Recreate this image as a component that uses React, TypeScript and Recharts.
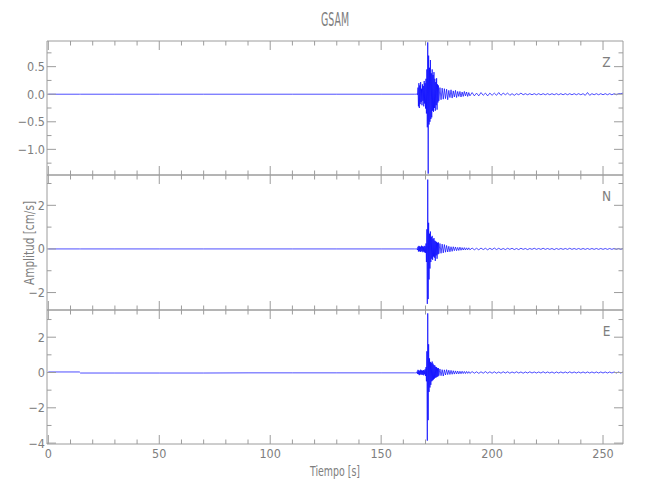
import { LineChart, Line, XAxis, YAxis } from 'recharts'

// time axis [s], split by segment of the record
const tPre = [0, 14, 14.5, 30, 50, 70, 90, 110, 130, 150, 165, 165.6]
const tSismo = [
  166, 166.2, 166.4, 166.6, 166.8, 167, 167.2, 167.4, 167.6, 167.8,
  168, 168.2, 168.4, 168.6, 168.8, 169, 169.2, 169.4, 169.6, 169.8,
  170, 170.2, 170.4, 170.6, 170.8, 171, 171.2, 171.4, 171.6, 171.8,
  172, 172.2, 172.4, 172.6, 172.8, 173, 173.2, 173.4, 173.6, 173.8,
  174, 174.2, 174.4, 174.6, 174.8, 175, 175.2, 175.4, 175.6, 175.8,
  176
]
const tCoda = [
  176.5, 177, 177.5, 178, 178.5, 179, 179.5, 180, 180.5, 181,
  181.5, 182, 182.5, 183, 183.5, 184, 184.5, 185, 185.5, 186,
  186.5, 187, 187.5, 188, 188.5, 189, 189.5, 190
]
const tCola = [
  191, 192, 193, 194, 195, 196, 197, 198, 199, 200,
  201, 202, 203, 204, 205, 206, 207, 208, 209, 210,
  211, 212, 213, 214, 215, 216, 217, 218, 219, 220,
  221, 222, 223, 224, 225, 226, 227, 228, 229, 230,
  231, 232, 233, 234, 235, 236, 237, 238, 239, 240,
  241, 242, 243, 244, 245, 246, 247, 248, 249, 250,
  251, 252, 253, 254, 255, 256, 257, 258, 259
]

// componente Z [cm/s]
const zPre = [0, 0, 0, 0, 0, 0, 0, 0, 0, 0, 0, 0]
const zSismo = [
  0, 0.01, -0.01, 0.12, -0.22, 0.2, -0.25, 0.16, -0.18, 0.22,
  -0.14, 0.1, -0.2, 0.18, -0.12, 0.15, -0.22, 0.24, -0.17, 0.2,
  -0.26, 0.28, -0.35, 0.45, -0.6, 0.94, -1.44, 0.7, -0.55, 0.48,
  -0.5, 0.62, -0.45, 0.38, -0.42, 0.45, -0.3, 0.35, -0.32, 0.4,
  -0.25, 0.28, -0.3, 0.22, -0.2, 0.29, -0.28, 0.18, -0.15, 0.16,
  -0.12
]
const zCoda = [
  0.12, -0.1, 0.11, -0.09, 0.1, -0.08, 0.09, -0.1, 0.07, -0.06,
  0.08, -0.07, 0.06, -0.05, 0.07, -0.06, 0.05, -0.04, 0.05, -0.05,
  0.04, -0.04, 0.05, -0.03, 0.04, -0.04, 0.03, -0.03
]
const zCola = [
  0.03, -0.03, 0.02, -0.03, 0.03, -0.02, 0.02, -0.03, 0.02, -0.02,
  0.02, -0.02, 0.03, -0.02, 0.02, -0.01, 0.02, -0.02, 0.01, -0.02,
  0.01, -0.01, 0.02, -0.01, 0.01, -0.01, 0.01, -0.01, 0.01, -0.01,
  0.01, -0.01, 0.01, -0.01, 0.01, -0.01, 0.01, -0.01, 0.01, -0.01,
  0.01, -0.01, 0.01, -0.01, 0.01, -0.01, 0.01, -0.01, 0.01, -0.01,
  0.01, -0.02, 0.03, -0.02, 0.01, -0.01, 0.01, -0.01, 0.01, -0.01,
  0.01, -0.01, 0.01, -0.01, 0.01, -0.01, 0.01, 0.01, 0.02
]

// componente N [cm/s]
const nPre = [0, 0, 0, 0, 0, 0, 0, 0, 0, 0, 0, 0]
const nSismo = [
  0, 0.02, -0.05, 0.1, -0.12, 0.14, -0.1, 0.12, -0.14, 0.1,
  -0.12, 0.15, -0.1, 0.12, -0.15, 0.1, -0.12, 0.14, -0.16, 0.12,
  -0.18, 0.25, -0.6, 0.9, -2.52, 3.18, -2.3, 1.2, -1.4, 0.7,
  -0.9, 0.8, -0.6, 0.55, -0.45, 0.6, -0.5, 0.45, -0.35, 0.5,
  -0.4, 0.38, -0.55, 0.35, -0.3, 0.32, -0.45, 0.28, -0.25, 0.3,
  -0.22
]
const nCoda = [
  0.25, -0.2, 0.22, -0.18, 0.2, -0.15, 0.16, -0.14, 0.12, -0.13,
  0.1, -0.11, 0.1, -0.08, 0.09, -0.08, 0.07, -0.07, 0.08, -0.06,
  0.06, -0.05, 0.06, -0.05, 0.05, -0.04, 0.05, -0.04
]
const nCola = [
  0.04, -0.04, 0.03, -0.04, 0.04, -0.03, 0.03, -0.04, 0.03, -0.03,
  0.04, -0.03, 0.03, -0.03, 0.02, -0.03, 0.03, -0.02, 0.03, -0.03,
  0.02, -0.03, 0.03, -0.02, 0.02, -0.03, 0.02, -0.02, 0.03, -0.02,
  0.02, -0.02, 0.03, -0.02, 0.02, -0.02, 0.02, -0.03, 0.02, -0.02,
  0.02, -0.02, 0.02, -0.02, 0.03, -0.02, 0.02, -0.02, 0.02, -0.02,
  0.02, -0.02, 0.02, -0.02, 0.02, -0.02, 0.02, -0.02, 0.02, -0.02,
  0.02, -0.02, 0.02, -0.02, 0.02, -0.02, 0.02, -0.02, 0.02
]

// componente E [cm/s]
const ePre = [0.03, 0.03, -0.03, -0.03, -0.03, -0.03, -0.02, -0.02, -0.02, -0.02, -0.02, -0.02]
const eSismo = [
  -0.02, 0.05, -0.08, 0.15, -0.1, 0.12, -0.15, 0.1, -0.12, 0.16,
  -0.1, 0.12, -0.14, 0.1, -0.12, 0.14, -0.16, 0.12, -0.1, 0.18,
  -0.2, 0.3, -0.5, 1.2, -3.86, 3.35, -2.7, 1.6, -1.1, 0.8,
  -0.85, 0.6, -0.7, 0.55, -0.5, 0.62, -0.45, 0.5, -0.4, 0.42,
  -0.35, 0.4, -0.3, 0.32, -0.28, 0.3, -0.25, 0.24, -0.22, 0.25,
  -0.18
]
const eCoda = [
  0.2, -0.18, 0.16, -0.2, 0.15, -0.14, 0.16, -0.12, 0.13, -0.11,
  0.12, -0.1, 0.1, -0.09, 0.09, -0.08, 0.08, -0.08, 0.07, -0.07,
  0.07, -0.06, 0.06, -0.06, 0.06, -0.05, 0.05, -0.05
]
const eCola = [
  0.05, -0.04, 0.04, -0.05, 0.04, -0.04, 0.05, -0.04, 0.04, -0.04,
  0.04, -0.04, 0.03, -0.04, 0.04, -0.03, 0.04, -0.04, 0.03, -0.03,
  0.04, -0.03, 0.03, -0.04, 0.03, -0.03, 0.04, -0.03, 0.03, -0.03,
  0.03, -0.03, 0.04, -0.03, 0.03, -0.03, 0.03, -0.04, 0.03, -0.03,
  0.03, -0.03, 0.03, -0.03, 0.04, -0.03, 0.03, -0.03, 0.03, -0.03,
  0.03, -0.03, 0.03, -0.03, 0.03, -0.03, 0.03, -0.03, 0.03, -0.03,
  0.03, -0.03, 0.03, -0.03, 0.03, -0.03, 0.03, -0.03, 0.03
]

// ticks
const xTicks = [0, 10, 20, 30, 40, 50, 60, 70, 80, 90, 100, 110, 120, 130, 140, 150, 160, 170, 180, 190, 200, 210, 220, 230, 240, 250]
const xMajor = [0, 50, 100, 150, 200, 250]
const zTicks = [-1.25, -1, -0.75, -0.5, -0.25, 0, 0.25, 0.5, 0.75]
const zMajor = [-1, -0.5, 0, 0.5]
const zLabels = ['−1.0', '−0.5', '0.0', '0.5']
const nTicks = [-2, -1, 0, 1, 2, 3]
const nMajor = [-2, 0, 2]
const nLabels = ['−2', '0', '2']
const eTicks = [-4, -3, -2, -1, 0, 1, 2, 3]
const eMajor = [-4, -2, 0, 2]
const eLabels = ['−4', '−2', '0', '2']

const tiempo = [...tPre, ...tSismo, ...tCoda, ...tCola]

const FONT = "'Liberation Sans Narrow', 'DejaVu Sans Condensed', 'Liberation Sans', sans-serif"
const AXIS = '#9c9c9c'
const TEXT = '#7e7e7e'
const X_DOMAIN: [number, number] = [-0.6, 259]
const LEFT = 47
const RIGHT = 27
const PAD = 5

const xTick = (side: 'top' | 'bottom', withLabels: boolean) => (props: any) => {
  const { x, y, payload } = props
  const major = xMajor.includes(payload.value)
  const len = major ? 9 : 4.5
  const dir = side === 'bottom' ? -1 : 1
  return (
    <g>
      <line x1={x} x2={x} y1={y} y2={y + dir * len} stroke={AXIS} strokeWidth={1} />
      {withLabels && major && (
        <text x={x} y={y + 13.5} textAnchor="middle" fontSize={12.5} fontFamily={FONT} fill={TEXT}>
          {payload.value}
        </text>
      )}
    </g>
  )
}

const yTick = (side: 'left' | 'right', major: number[], labels: string[]) => (props: any) => {
  const { x, y, payload } = props
  const idx = major.indexOf(payload.value)
  const len = idx >= 0 ? 9 : 4.5
  const dir = side === 'left' ? 1 : -1
  return (
    <g>
      <line x1={x} x2={x + dir * len} y1={y} y2={y} stroke={AXIS} strokeWidth={1} />
      {side === 'left' && idx >= 0 && (
        <text x={x - 2} y={y + 4.5} textAnchor="end" fontSize={12.5} fontFamily={FONT} fill={TEXT}>
          {labels[idx]}
        </text>
      )}
    </g>
  )
}

interface PanelProps {
  values: number[]
  domain: [number, number]
  ticks: number[]
  major: number[]
  labels: string[]
  top: number
  height: number
  last?: boolean
}

const Panel = ({ values, domain, ticks, major, labels, top, height, last }: PanelProps) => {
  const data = tiempo.map((t, i) => ({ t, v: values[i] }))
  const bottom = last ? 28 : PAD
  return (
    <div style={{ position: 'absolute', left: 0, top: top - PAD }}>
      <LineChart width={650} height={height + PAD + bottom} data={data} margin={{ top: 0, right: 0, bottom: 0, left: 0 }}>
        <XAxis xAxisId="b" dataKey="t" type="number" domain={X_DOMAIN} allowDataOverflow ticks={xTicks} interval={0}
          height={bottom} tickSize={0} tickMargin={0} tickLine={false} axisLine={{ stroke: AXIS }} tick={xTick('bottom', !!last)} />
        <XAxis xAxisId="t" orientation="top" dataKey="t" type="number" domain={X_DOMAIN} allowDataOverflow ticks={xTicks} interval={0}
          height={PAD} tickSize={0} tickMargin={0} tickLine={false} axisLine={{ stroke: AXIS }} tick={xTick('top', false)} />
        <YAxis yAxisId="l" type="number" domain={domain} allowDataOverflow ticks={ticks} interval={0}
          width={LEFT} tickSize={0} tickMargin={0} tickLine={false} axisLine={{ stroke: AXIS }} tick={yTick('left', major, labels)} />
        <YAxis yAxisId="r" orientation="right" type="number" domain={domain} allowDataOverflow ticks={ticks} interval={0}
          width={RIGHT} tickSize={0} tickMargin={0} tickLine={false} axisLine={{ stroke: AXIS }} tick={yTick('right', major, labels)} />
        <Line xAxisId="b" yAxisId="l" dataKey="v" type="linear" stroke="#0000ff" strokeWidth={0.7} dot={false} isAnimationActive={false} />
      </LineChart>
    </div>
  )
}

export default function App() {
  return (
    <div style={{ position: 'absolute', left: 0, top: 0, width: 650, height: 500, background: '#fff' }}>
      <Panel values={[...zPre, ...zSismo, ...zCoda, ...zCola]} domain={[-1.465, 0.965]} ticks={zTicks} major={zMajor} labels={zLabels} top={41} height={134} />
      <Panel values={[...nPre, ...nSismo, ...nCoda, ...nCola]} domain={[-2.8, 3.39]} ticks={nTicks} major={nMajor} labels={nLabels} top={175} height={135} />
      <Panel values={[...ePre, ...eSismo, ...eCoda, ...eCola]} domain={[-4.05, 3.54]} ticks={eTicks} major={eMajor} labels={eLabels} top={310} height={134} last />
      <svg width={650} height={500} style={{ position: 'absolute', left: 0, top: 0, pointerEvents: 'none' }}>
        <g fontFamily={FONT} fill={TEXT}>
          <text x={335} y={26} fontSize={20} textAnchor="middle" textLength={28} lengthAdjust="spacingAndGlyphs">GSAM</text>
          <text x={335} y={476} fontSize={14} textAnchor="middle" textLength={50} lengthAdjust="spacingAndGlyphs">Tiempo [s]</text>
          <text transform="translate(34 243) rotate(-90)" fontSize={14} textAnchor="middle" textLength={84} lengthAdjust="spacingAndGlyphs">Amplitud [cm/s]</text>
          <text x={606.5} y={66.5} fontSize={13.5} textAnchor="middle">Z</text>
          <text x={606.5} y={201} fontSize={13.5} textAnchor="middle">N</text>
          <text x={606.5} y={335.5} fontSize={13.5} textAnchor="middle">E</text>
        </g>
      </svg>
    </div>
  )
}
